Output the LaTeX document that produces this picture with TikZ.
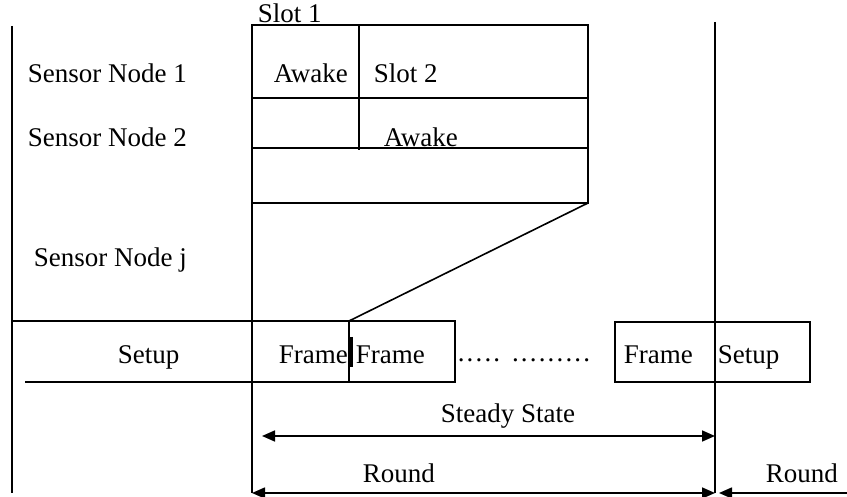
\documentclass[tikz,border=0pt]{standalone}
\usepackage{fontspec}
\setmainfont{Liberation Serif}
\usetikzlibrary{arrows.meta}

\begin{document}
\begin{tikzpicture}[x=1pt, y=-1pt, line width=1.6pt,
  txt/.style={anchor=base west, inner sep=0pt, font=\fontsize{27}{31}\selectfont},
  dimarrow/.style={{Triangle[length=13pt,width=11pt]}-{Triangle[length=13pt,width=11pt]}}]
  \useasboundingbox (0,0) rectangle (847,497);
  % Parameters
  \def\xa{252}   % Round starts
  \def\xb{715}   % Round ends
  \def\xs{588}   % Right edge of the slot table
  \def\yf{321}   % Top of the frame row
  \def\yg{382}   % Bottom of the frame row
  \def\yr{493}   % Round arrows
  % Labels
  \node[txt] (slot1) at (257,23) {Slot 1};
  \node[txt] (sn1) at (27,83) {Sensor Node 1};
  \node[txt] (sn2) at (27,147) {Sensor Node 2};
  \node[txt] (snj) at (33,267) {Sensor Node j};
  \node[txt] (awake1) at (273,83) {Awake};
  \node[txt] (slot2) at (373,83) {Slot 2};
  \node[txt] (awake2) at (383,147) {Awake};
  \node[txt] (setup1) at (117,363) {Setup};
  \node[txt] (frame1) at (278,363) {Frame};
  \node[txt] (frame2) at (355,363) {Frame};
  \node[txt, font=\fontsize{27}{31}\selectfont\addfontfeatures{LetterSpace=8}] (dots) at (457,362) {..... .........};
  \node[txt] (frame3) at (623,363) {Frame};
  \node[txt] (setup2) at (717,363) {Setup};
  \node[txt] (steady) at (440,422) {Steady State};
  \node[txt] (round1) at (362,482) {Round};
  \node[txt] (round2) at (765,482) {Round};
  % Time lines
  \draw (12,26) -- (12,\yr);
  \draw (\xa,25) -- (\xa,\yr);
  \draw (\xb,22) -- (\xb,\yr);
  % Slot table
  \draw (\xa,25) rectangle (\xs,203);
  \draw (\xa,98) -- (\xs,98);
  \draw (\xa,148) -- (\xs,148);
  \draw (359,25) -- (359,150);
  % Zoom line down to the frame
  \draw (\xs,203) -- (349,\yf);
  % Frame row
  \draw (12,\yf) -- (349,\yf);
  \draw (349,\yf) rectangle (455,\yg);
  \draw (25,\yg) -- (349,\yg);
  \draw[line width=4pt] (351,337) -- (351,367);
  \draw (615,\yf+1) rectangle (810,\yg);
  % Arrows
  \coordinate (ss-l) at (262,436);
  \coordinate (ss-r) at (\xb,436);
  \coordinate (rd-l) at (\xa,\yr);
  \coordinate (rd-r) at (\xb,\yr);
  \coordinate (nx-l) at (\xb+4,\yr);
  \coordinate (nx-r) at (847,\yr);
  \draw[dimarrow] (ss-l) -- (ss-r);
  \draw[dimarrow] (rd-l) -- (rd-r);
  \draw[{Triangle[length=13pt,width=11pt]}-] (nx-l) -- (nx-r);
\end{tikzpicture}
\end{document}
